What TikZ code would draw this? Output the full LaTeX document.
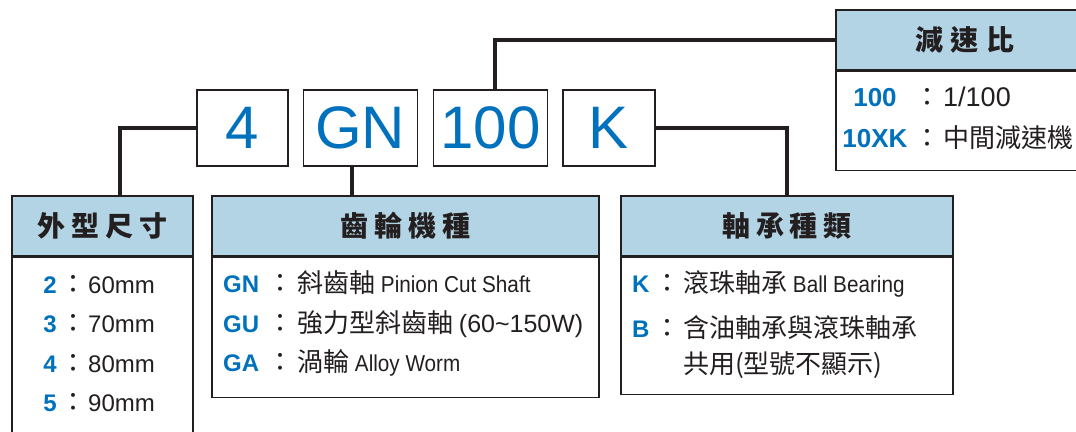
\documentclass[tikz,border=0pt]{standalone}
\usepackage{fontspec}
\usetikzlibrary{positioning}
\setmainfont{Liberation Sans}
\newfontfamily\narrow[FakeStretch=0.9]{Liberation Sans}
\newfontfamily\cjk{Noto Sans CJK TC}
\definecolor{codeblue}{HTML}{0071BC}
\definecolor{headblue}{HTML}{B3D4E4}
\definecolor{ink}{HTML}{231F20}
\newcommand{\zh}[1]{{\fontsize{26}{30}\cjk #1}}
\newcommand{\hgap}{\hspace{6pt}}
\tikzset{
  codebox/.style={draw=ink, line width=1.3pt, fill=white, minimum height=76pt, inner sep=0pt,
    text=codeblue, font=\fontsize{60}{60}\selectfont},
  headbox/.style={draw=ink, line width=1.3pt, fill=headblue, minimum height=60pt, inner sep=0pt,
    text=ink, font=\fontsize{28}{30}\cjk\bfseries},
  bodybox/.style={draw=ink, line width=1.3pt, fill=white, inner sep=0pt, anchor=north},
  link/.style={draw=ink, line width=4.2pt},
  key/.style={anchor=base, inner sep=0pt, text=codeblue, font=\fontsize{24}{26}\bfseries},
  colon/.style={anchor=base, inner sep=0pt, text=ink, font=\fontsize{26}{30}\cjk},
  desc/.style={anchor=base west, inner sep=0pt, text=ink, font=\fontsize{23}{26}\narrow},
  numdesc/.style={anchor=base west, inner sep=0pt, text=ink, font=\fontsize{24}{26}\selectfont}
}

\begin{document}
\begin{tikzpicture}[x=1pt, y=-1pt]
  \path[use as bounding box] (0,0) rectangle (1076,431);
  \clip (0,0) rectangle (1076,431);

  % code row
  \node[codebox, minimum width=91pt] (c4) at (242.5,128) {4};
  \node[codebox, minimum width=114pt, right=14pt of c4] (cGN) {GN};
  \node[codebox, minimum width=114pt, right=15pt of cGN] (c100) {100};
  \node[codebox, minimum width=92pt, right=14pt of c100] (cK) {K};

  % boxes
  \node[headbox, minimum width=181pt] (size) at (102.5,226) {外\hgap 型\hgap 尺\hgap 寸};
  \node[bodybox, minimum width=181pt, minimum height=194pt] (sizebody) at (size.south) {};
  \node[headbox, minimum width=387pt] (gear) at (405.5,226) {齒\hgap 輪\hgap 機\hgap 種};
  \node[bodybox, minimum width=387pt, minimum height=140pt] (gearbody) at (gear.south) {};
  \node[headbox, minimum width=332pt] (bear) at (787,226) {軸\hgap 承\hgap 種\hgap 類};
  \node[bodybox, minimum width=332pt, minimum height=137pt] (bearbody) at (bear.south) {};
  \node[headbox, minimum width=258pt] (ratio) at (965,40) {減\hspace{8pt}速\hspace{8pt}比};
  \node[bodybox, minimum width=258pt, minimum height=99pt] (ratiobody) at (ratio.south) {};

  % connectors
  \draw[link] (c4.west) -| ([xshift=17.5pt]size.north);
  \draw[link] ([xshift=-8pt]cGN.south) -- ([xshift=-8pt]cGN.south |- gear.north);
  \draw[link] ([xshift=4pt]c100.north) |- (ratio.west);
  \draw[link] (cK.east) -| (bear.north);

  % size entries
  \foreach \k/\v [count=\i from 0] in {2/60mm, 3/70mm, 4/80mm, 5/90mm} {
    \node[key] (s\i) at (50,293+39.5*\i) {\k};
    \node[colon] (sc\i) at (73,293+39.5*\i) {：};
    \node[numdesc] (sd\i) at (88,293+39.5*\i) {\v};
  }

  % gear entries
  \node[key, anchor=base west] (gGN) at (223,292) {GN};
  \node[colon] (gc1) at (280,292) {：};
  \node[desc] (gd1) at (297,292) {\zh{斜齒軸} Pinion Cut Shaft};
  \node[key, anchor=base west] (gGU) at (223,332) {GU};
  \node[colon] (gc2) at (280,332) {：};
  \node[desc] (gd2) at (297,332) {\zh{強力型斜齒軸} {\fontsize{25}{28}\rmfamily (60\textasciitilde150W)}};
  \node[key, anchor=base west] (gGA) at (223,371) {GA};
  \node[colon] (gc3) at (280,371) {：};
  \node[desc] (gd3) at (297,371) {\zh{渦輪} Alloy Worm};

  % bearing entries
  \node[key, anchor=base west] (bK) at (632,292) {K};
  \node[colon] (bc1) at (667,292) {：};
  \node[desc] (bd1) at (683,292) {\zh{滾珠軸承} Ball Bearing};
  \node[key, anchor=base west] (bB) at (632,337) {B};
  \node[colon] (bc2) at (667,337) {：};
  \node[desc] (bd2) at (683,337) {\zh{含油軸承與滾珠軸承}};
  \node[desc] (bd3) at (683,373) {\zh{共用(型號不顯示)}};

  % ratio entries
  \node[key, font=\fontsize{26}{28}\bfseries] (r1) at (875,106) {100};
  \node[colon] (rc1) at (927,106) {：};
  \node[numdesc, font=\fontsize{27}{30}\selectfont] (rd1) at (943,106) {1/100};
  \node[key, font=\fontsize{26}{28}\bfseries] (r2) at (875,147) {10XK};
  \node[colon] (rc2) at (927,147) {：};
  \node[desc] (rd2) at (943,147) {\zh{中間減速機}};
\end{tikzpicture}
\end{document}
